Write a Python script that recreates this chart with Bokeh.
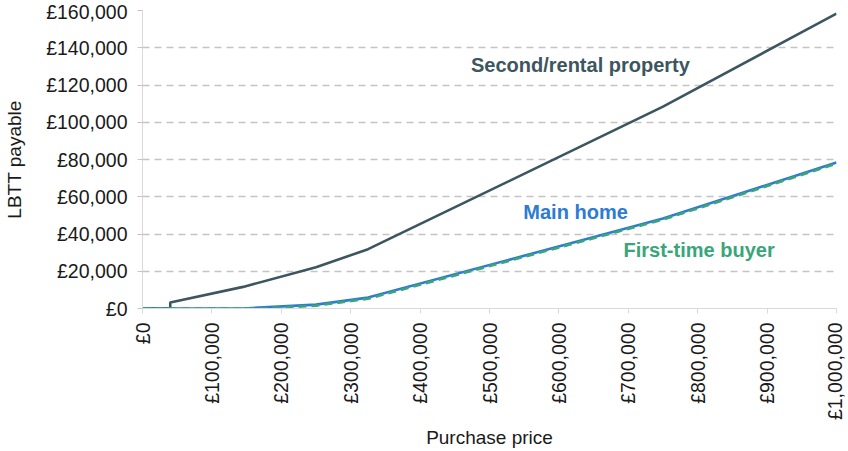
from bokeh.plotting import figure
from bokeh.models import Range1d, FixedTicker, Label
from bokeh.embed import file_html
from bokeh.resources import INLINE

# LBTT payable at the kinks of each schedule
price_main = [0, 145000, 250000, 325000, 750000, 1000000]
lbtt_main = [0, 0, 2100, 5850, 48350, 78350]

price_ftb = [0, 175000, 250000, 325000, 750000, 1000000]
lbtt_ftb = [0, 0, 1500, 5250, 47750, 77750]

price_second = [0, 40000, 40000, 145000, 250000, 325000, 750000, 1000000]
lbtt_second = [0, 0, 3200, 11600, 22100, 31850, 108350, 158350]

x_ticks = [0, 100000, 200000, 300000, 400000, 500000,
           600000, 700000, 800000, 900000, 1000000]
x_labels = ["£0", "£100,000", "£200,000", "£300,000", "£400,000", "£500,000",
            "£600,000", "£700,000", "£800,000", "£900,000", "£1,000,000"]
y_ticks = [0, 20000, 40000, 60000, 80000, 100000, 120000, 140000, 160000]
y_labels = ["£0", "£20,000", "£40,000", "£60,000", "£80,000", "£100,000",
            "£120,000", "£140,000", "£160,000"]

DARK = "#3c5660"
BLUE = "#2d7bd2"
GREEN = "#3aa57a"
FONT = "Liberation Sans"

p = figure(width=846, height=451, output_backend="svg", toolbar_location=None,
           x_range=Range1d(0, 1000000), y_range=Range1d(0, 160000),
           min_border_left=142, min_border_right=10, min_border_top=10,
           min_border_bottom=130, x_axis_label="Purchase price",
           y_axis_label="LBTT payable")
p.outline_line_color = None
p.background_fill_color = "white"

p.line(price_second, lbtt_second, line_color=DARK, line_width=2.6)
p.line(price_main, lbtt_main, line_color=BLUE, line_width=2.6)
p.line(price_ftb, lbtt_ftb, line_color=GREEN, line_width=2.6, line_dash="8 5")

p.xgrid.visible = False
p.ygrid.grid_line_color = "#c4c4c4"
p.ygrid.grid_line_width = 1.3
p.ygrid.grid_line_dash = "7 5"

p.xaxis.ticker = FixedTicker(ticks=x_ticks)
p.xaxis.major_label_overrides = dict(zip(x_ticks, x_labels))
p.xaxis.major_label_orientation = 1.5708
p.yaxis.ticker = FixedTicker(ticks=y_ticks)
p.yaxis.major_label_overrides = dict(zip(y_ticks, y_labels))

for ax in (p.xaxis, p.yaxis):
    ax.axis_line_color = "#d9d9d9"
    ax.major_tick_line_color = "#d9d9d9"
    ax.major_tick_in = 0
    ax.major_tick_out = 5
    ax.minor_tick_line_color = None
    ax.major_label_text_font = FONT
    ax.major_label_text_font_size = "19.5px"
    ax.major_label_text_color = "#1a1a1a"
    ax.axis_label_text_font = FONT
    ax.axis_label_text_font_size = "19px"
    ax.axis_label_text_font_style = "normal"
    ax.axis_label_text_color = "#1a1a1a"

p.yaxis.major_tick_line_color = "#c4c4c4"
p.xaxis.major_label_standoff = 9
p.xaxis.axis_label_standoff = 4
p.yaxis.major_label_standoff = 10
p.yaxis.axis_label_standoff = 18

for txt, x, y, col in [("Second/rental property", 631000, 130500, DARK),
                       ("Main home", 624000, 52000, BLUE),
                       ("First-time buyer", 802000, 31300, GREEN)]:
    p.add_layout(Label(x=x, y=y, text=txt, text_color=col, text_font=FONT,
                       text_font_size="20px", text_font_style="bold",
                       text_align="center", text_baseline="middle"))

open("out.html", "w").write(file_html(p, INLINE))
